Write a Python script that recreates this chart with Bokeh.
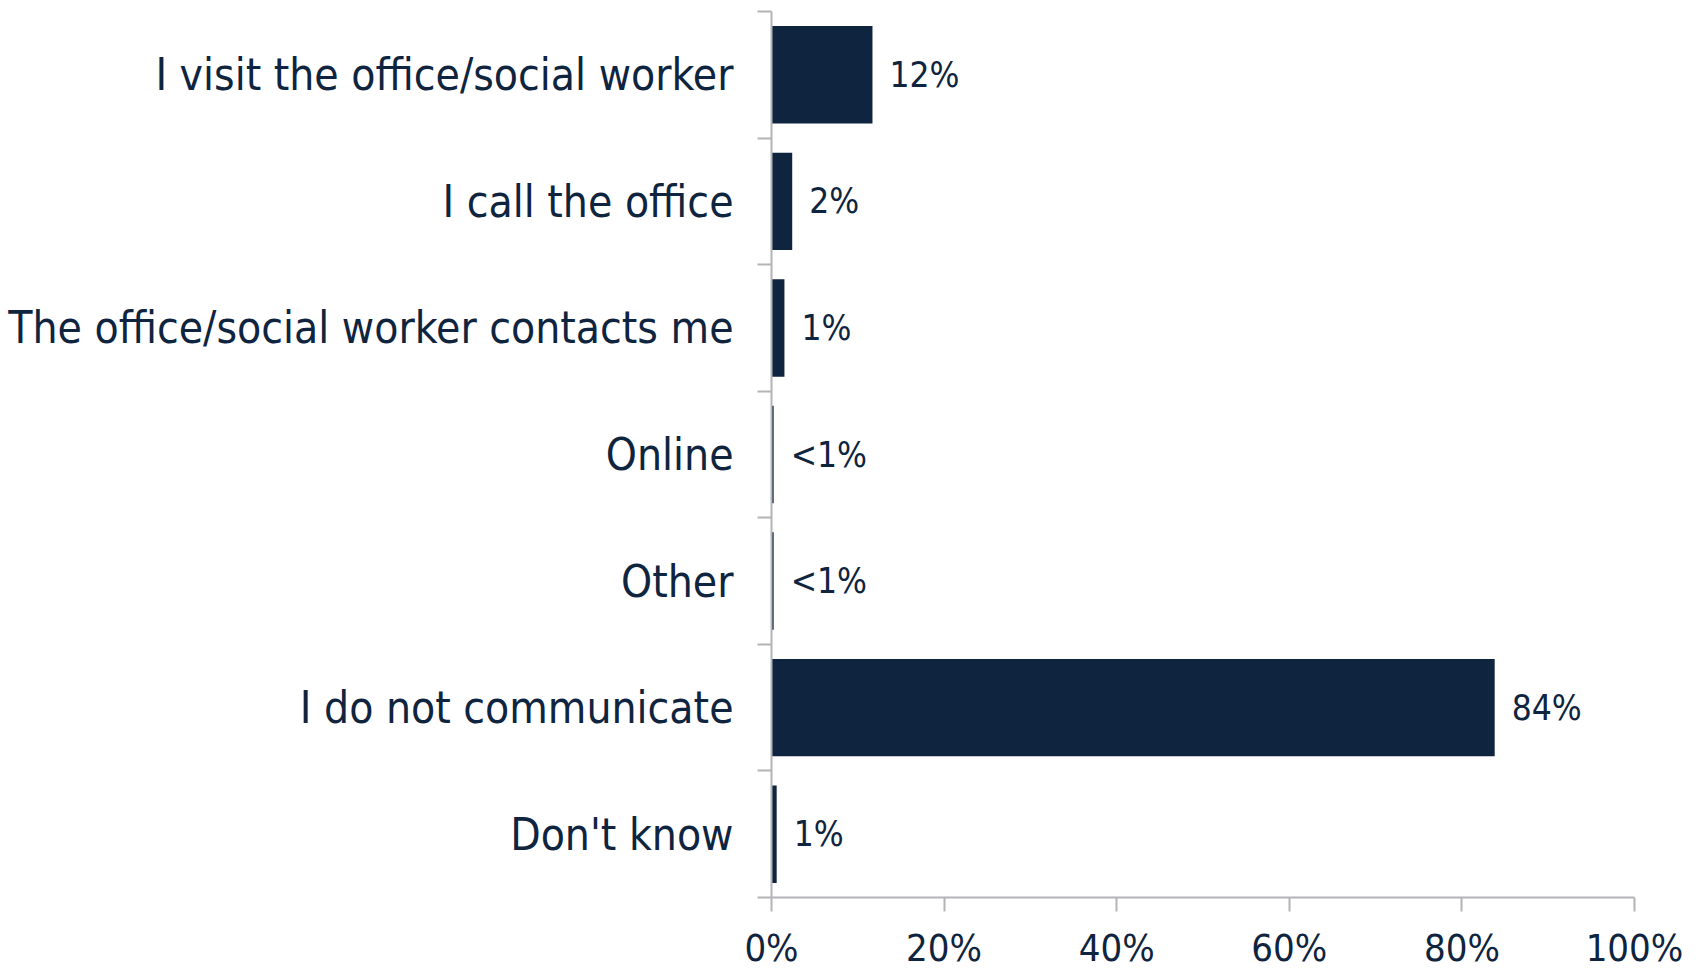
from bokeh.plotting import figure
from bokeh.models import Range1d, FixedTicker, ColumnDataSource
from bokeh.embed import file_html
from bokeh.resources import INLINE
from bokeh.core.properties import value

categories = [
    "I visit the office/social worker",
    "I call the office",
    "The office/social worker contacts me",
    "Online",
    "Other",
    "I do not communicate",
    "Don't know",
]
values = [11.7, 2.4, 1.5, 0.25, 0.25, 83.8, 0.6]
value_labels = ["12%", "2%", "1%", "<1%", "<1%", "84%", "1%"]
x_ticks = [0, 20, 40, 60, 80, 100]
x_tick_labels = ["0%", "20%", "40%", "60%", "80%", "100%"]

NAVY = "#0F243E"
GRAY = "#B4B4B8"
FONT = "DejaVu Sans Condensed"

n = len(categories)
ypos = [n - i - 0.5 for i in range(n)]

src = ColumnDataSource(dict(y=ypos, v=values, lab=value_labels))

p = figure(
    width=1684, height=972,
    x_range=Range1d(0, 100), y_range=Range1d(0, n),
    output_backend="svg", toolbar_location=None,
    min_border_left=771, min_border_right=50,
    min_border_top=11, min_border_bottom=73,
)
p.outline_line_color = None
p.grid.visible = False

p.hbar(y="y", right="v", left=0, height=0.77, source=src,
       fill_color=NAVY, line_color=None)
p.text(x="v", y="y", text="lab", source=src, x_offset=17,
       text_baseline="middle", text_align="left",
       text_font=value(FONT), text_font_size="35px", text_color=NAVY)

# x axis
xa = p.xaxis[0]
xa.ticker = FixedTicker(ticks=x_ticks)
xa.major_label_overrides = {t: l for t, l in zip(x_ticks, x_tick_labels)}
xa.axis_line_color = GRAY
xa.axis_line_width = 2
xa.major_tick_line_color = GRAY
xa.major_tick_line_width = 2
xa.major_tick_out = 14
xa.major_tick_in = 0
xa.minor_tick_line_color = None
xa.major_label_standoff = 14
xa.major_label_text_font = FONT
xa.major_label_text_font_size = "38px"
xa.major_label_text_color = NAVY

# y axis: labels at band centres, ticks at band boundaries
ya = p.yaxis[0]
ya.ticker = FixedTicker(ticks=ypos, minor_ticks=list(range(n + 1)))
ya.major_label_overrides = {y: c for y, c in zip(ypos, categories)}
ya.axis_line_color = GRAY
ya.axis_line_width = 2
ya.major_tick_line_color = None
ya.major_tick_out = 0
ya.major_tick_in = 0
ya.minor_tick_line_color = GRAY
ya.minor_tick_line_width = 2
ya.minor_tick_out = 14
ya.minor_tick_in = 0
ya.major_label_standoff = 24
ya.major_label_text_font = FONT
ya.major_label_text_font_size = "44px"
ya.major_label_text_color = NAVY

open("out.html", "w").write(file_html(p, INLINE))
